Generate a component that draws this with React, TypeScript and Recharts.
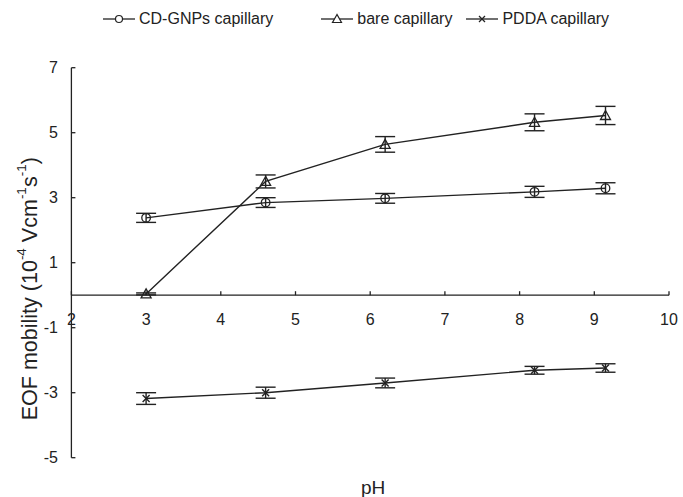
import React from 'react'
import { LineChart, Line, XAxis, YAxis, ErrorBar, ReferenceLine, ReferenceDot, Legend, Label } from 'recharts'

const phValues = [3, 4.6, 6.2, 8.2, 9.15]
const cdGnps = [2.38, 2.85, 2.98, 3.18, 3.29]
const cdGnpsErr = [0.14, 0.15, 0.15, 0.17, 0.17]
const bare = [0.04, 3.5, 4.64, 5.32, 5.53]
const bareErr = [0.03, 0.2, 0.24, 0.26, 0.28]
const pdda = [-3.18, -3.0, -2.7, -2.31, -2.24]
const pddaErr = [0.18, 0.17, 0.15, 0.12, 0.13]

const xTicks = [2, 3, 4, 5, 6, 7, 8, 9, 10]
const yTicks = [-5, -3, -1, 1, 3, 5, 7]

const seriesNames = ['CD-GNPs capillary', 'bare capillary', 'PDDA capillary']

const data = phValues.map((ph, i) => ({
  ph,
  cd: cdGnps[i],
  cdErr: cdGnpsErr[i],
  bare: bare[i],
  bareErr: bareErr[i],
  pdda: pdda[i],
  pddaErr: pddaErr[i]
}))

const INK = '#222'
const FONT = '"Liberation Sans", Arial, sans-serif'

const CircleDot = (props: any) => {
  const { cx, cy } = props
  if (cx == null || cy == null) return null
  return <circle cx={cx} cy={cy} r={4.3} fill="none" stroke={INK} strokeWidth={1.3} />
}

const TriangleDot = (props: any) => {
  const { cx, cy } = props
  if (cx == null || cy == null) return null
  return (
    <polygon
      points={`${cx},${cy - 5} ${cx - 5},${cy + 4} ${cx + 5},${cy + 4}`}
      fill="none"
      stroke={INK}
      strokeWidth={1.3}
    />
  )
}

const CrossDot = (props: any) => {
  const { cx, cy } = props
  if (cx == null || cy == null) return null
  return (
    <g stroke={INK} strokeWidth={1.4}>
      <line x1={cx - 3.5} y1={cy - 3.5} x2={cx + 3.5} y2={cy + 3.5} />
      <line x1={cx - 3.5} y1={cy + 3.5} x2={cx + 3.5} y2={cy - 3.5} />
    </g>
  )
}

const legendIcon = (kind: number) => (
  <svg width={32} height={12} style={{ display: 'block' }}>
    <line x1={0} y1={6} x2={32} y2={6} stroke={INK} strokeWidth={1.3} />
    {kind === 0 && <circle cx={16} cy={6} r={3.5} fill="white" stroke={INK} strokeWidth={1.2} />}
    {kind === 1 && <polygon points="16,1.5 11.5,9.5 20.5,9.5" fill="white" stroke={INK} strokeWidth={1.2} />}
    {kind === 2 && (
      <g stroke={INK} strokeWidth={1.2}>
        <line x1={13} y1={3} x2={19} y2={9} />
        <line x1={13} y1={9} x2={19} y2={3} />
      </g>
    )}
  </svg>
)

const renderLegend = () => {
  const gaps = [0, 48, 14]
  return (
    <div style={{ display: 'flex', justifyContent: 'flex-start', alignItems: 'center', fontFamily: FONT, fontSize: 16, color: INK, paddingLeft: 103 }}>
      {seriesNames.map((name, i) => (
        <div key={name} style={{ display: 'flex', alignItems: 'center', marginLeft: gaps[i], lineHeight: '20px' }}>
          {legendIcon(i)}
          <span style={{ marginLeft: 4 }}>{name}</span>
        </div>
      ))}
    </div>
  )
}

const xTickShape = (value: number) => (props: any) => {
  const { cx, cy } = props
  return (
    <g>
      <line x1={cx} y1={cy} x2={cx} y2={cy - 4} stroke={INK} strokeWidth={1.3} />
      <text x={cx} y={cy + 30} textAnchor="middle" fontFamily={FONT} fontSize={16} fill={INK}>
        {value}
      </text>
    </g>
  )
}

const renderYLabel = (props: any) => {
  const { x, y, height } = props.viewBox || {}
  const cx = x + 30
  const cy = y + height / 2 + 26
  return (
    <text
      x={cx}
      y={cy}
      transform={`rotate(-90, ${cx}, ${cy})`}
      textAnchor="middle"
      dominantBaseline="central"
      fontFamily={FONT}
      fontSize={21.5}
      fill={INK}
    >
      EOF mobility (10
      <tspan fontSize={13.5} dy={-9}>-4</tspan>
      <tspan dy={9}> Vcm</tspan>
      <tspan fontSize={13.5} dy={-9}>-1</tspan>
      <tspan dy={9}>s</tspan>
      <tspan fontSize={13.5} dy={-9}>-1</tspan>
      <tspan dy={9}>)</tspan>
    </text>
  )
}

const renderXLabel = (props: any) => {
  const { x, y, width } = props.viewBox || {}
  return (
    <text x={x + width / 2 + 3} y={y + 30} textAnchor="middle" dominantBaseline="central" fontFamily={FONT} fontSize={19} fill={INK}>
      pH
    </text>
  )
}

export default function App() {
  return (
    <div style={{ position: 'absolute', left: 0, top: 0, width: 683, height: 497, background: '#fff' }}>
      <LineChart width={683} height={497} data={data} margin={{ top: 67.7, right: 14, bottom: 0, left: 0 }}>
        <XAxis dataKey="ph" type="number" domain={[2, 10]} height={39.3} tick={false} tickLine={false} axisLine={false}>
          <Label content={renderXLabel} />
        </XAxis>
        <YAxis
          type="number"
          domain={[-5, 7]}
          ticks={yTicks}
          width={71.4}
          interval={0}
          tickSize={-4}
          tickMargin={17.5}
          axisLine={{ stroke: INK, strokeWidth: 1.3 }}
          tickLine={{ stroke: INK, strokeWidth: 1.3 }}
          tick={{ fill: INK, fontSize: 16, fontFamily: FONT }}
        >
          <Label content={renderYLabel} position="insideLeft" />
        </YAxis>
        <ReferenceLine y={0} stroke={INK} strokeWidth={1.3} />
        {xTicks.map(t => (
          <ReferenceDot key={t} x={t} y={0} r={0} shape={xTickShape(t)} ifOverflow="visible" />
        ))}
        <Legend verticalAlign="middle" align="center" layout="horizontal" content={renderLegend} wrapperStyle={{ top: 9, left: 0, width: 683 }} />
        <Line dataKey="cd" name={seriesNames[0]} stroke={INK} strokeWidth={1.4} dot={<CircleDot />} isAnimationActive={false}>
          <ErrorBar dataKey="cdErr" width={10} stroke={INK} strokeWidth={1.4} direction="y" />
        </Line>
        <Line dataKey="bare" name={seriesNames[1]} stroke={INK} strokeWidth={1.4} dot={<TriangleDot />} isAnimationActive={false}>
          <ErrorBar dataKey="bareErr" width={10} stroke={INK} strokeWidth={1.4} direction="y" />
        </Line>
        <Line dataKey="pdda" name={seriesNames[2]} stroke={INK} strokeWidth={1.4} dot={<CrossDot />} isAnimationActive={false}>
          <ErrorBar dataKey="pddaErr" width={10} stroke={INK} strokeWidth={1.4} direction="y" />
        </Line>
      </LineChart>
    </div>
  )
}
